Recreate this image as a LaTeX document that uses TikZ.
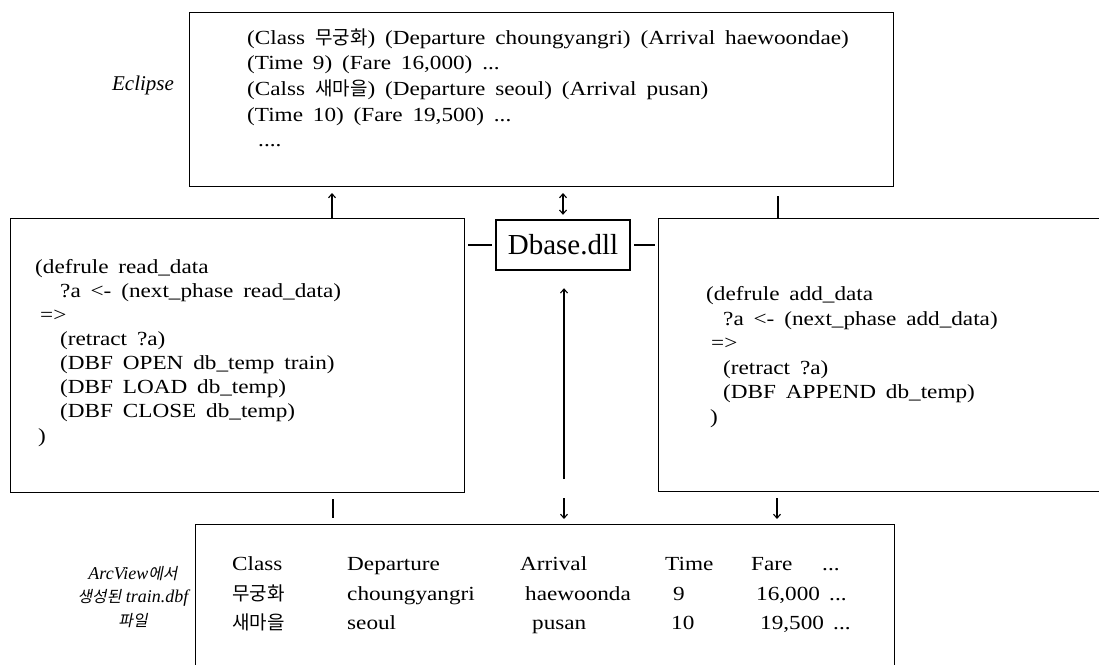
\documentclass[tikz,border=0pt]{standalone}
\usepackage{fontspec}
\setmainfont{Liberation Serif}[WordSpace=1.7,FakeStretch=1.16]
\newfontfamily\plainserif{Liberation Serif}
\newfontfamily\krfont{Noto Sans CJK KR}[Scale=0.95]
\newfontfamily\kritfont{Noto Sans CJK KR}[Scale=0.88,FakeSlant=0.2]
\usetikzlibrary{arrows.meta}
\newcommand\mainfs{\fontsize{20}{24}\selectfont}
\tikzset{
  box/.style={draw, line width=1.1pt, inner sep=0pt, anchor=north west},
  txt/.style={anchor=base west, inner sep=0pt, font=\mainfs},
  lbl/.style={anchor=center, inner sep=0pt, font=\plainserif\fontsize{21}{24}\selectfont\itshape, align=center},
  conn/.style={line width=1.1pt},
  arr/.style={conn, -{Straight Barb[length=4pt,width=7pt]}},
  darr/.style={conn, {Straight Barb[length=4pt,width=7pt]}-{Straight Barb[length=4pt,width=7pt]}},
}
\begin{document}
\begin{tikzpicture}[x=1pt,y=-1pt]
\useasboundingbox (0,0) rectangle (1099,664);
% boxes
\node[box, minimum width=704, minimum height=174] (tb) at (189,12) {};
\node[box, minimum width=454, minimum height=274] (lb) at (10,218) {};
\node[box, minimum width=460, minimum height=273] (rb) at (658,218) {};
\node[box, minimum width=699, minimum height=170] (bb) at (195,524) {};
\node[draw, line width=2.4pt, minimum width=134, minimum height=50, inner sep=0pt,
      font=\plainserif\fontsize{29}{30}\selectfont] (dbase) at (563,245) {Dbase.dll};
% side labels
\node[lbl] (eclipse) at (143,85) {Eclipse};
\node[lbl, font=\plainserif\fontsize{18}{23.5}\selectfont\itshape] (arcview) at (133,597) {ArcView{\kritfont 에서}\\{\kritfont 생성된} train.dbf\\{\kritfont 파일}};
% top box text
\node[txt] (t1) at (247,44) {(Class {\krfont 무궁화}) (Departure choungyangri) (Arrival haewoondae)};
\node[txt] (t2) at (247,69) {(Time 9) (Fare 16,000) ...};
\node[txt] (t3) at (247,95) {(Calss {\krfont 새마을}) (Departure seoul) (Arrival pusan)};
\node[txt] (t4) at (247,121) {(Time 10) (Fare 19,500) ...};
\node[txt] (t5) at (258,146) {....};
% left box text
\node[txt] (l1) at (35,273) {(defrule read\_data};
\node[txt] (l2) at (60,297) {?a <- (next\_phase read\_data)};
\node[txt] (l3) at (40,321) {=>};
\node[txt] (l4) at (60,345) {(retract ?a)};
\node[txt] (l5) at (60,369) {(DBF OPEN db\_temp train)};
\node[txt] (l6) at (60,393) {(DBF LOAD db\_temp)};
\node[txt] (l7) at (60,417) {(DBF CLOSE db\_temp)};
\node[txt] (l8) at (38,442) {)};
% right box text
\node[txt] (r1) at (706,300) {(defrule add\_data};
\node[txt] (r2) at (723,325) {?a <- (next\_phase add\_data)};
\node[txt] (r3) at (711,349) {=>};
\node[txt] (r4) at (723,374) {(retract ?a)};
\node[txt] (r5) at (723,398) {(DBF APPEND db\_temp)};
\node[txt] (r6) at (710,423) {)};
% bottom table
\node[txt] (c11) at (232,570) {Class};
\node[txt] (c12) at (347,570) {Departure};
\node[txt] (c13) at (520,570) {Arrival};
\node[txt] (c14) at (665,570) {Time};
\node[txt] (c15) at (751,570) {Fare};
\node[txt] (c16) at (822,570) {...};
\node[txt] (c21) at (232,600) {\krfont 무궁화};
\node[txt] (c22) at (347,600) {choungyangri};
\node[txt] (c23) at (525,600) {haewoonda};
\node[txt] (c24) at (673,600) {9};
\node[txt] (c25) at (756,600) {16,000};
\node[txt] (c26) at (829,600) {...};
\node[txt] (c31) at (232,629) {\krfont 새마을};
\node[txt] (c32) at (347,629) {seoul};
\node[txt] (c33) at (532,629) {pusan};
\node[txt] (c34) at (671,629) {10};
\node[txt] (c35) at (760,629) {19,500};
\node[txt] (c36) at (833,629) {...};
% free ends
\coordinate (cup) at (332,193);
\coordinate (cdd) at (563,193);
\coordinate (crt) at (778,196);
\coordinate (clong) at (564,479);
\coordinate (cd1) at (564,498);
\coordinate (cd2) at (777,498);
\coordinate (cl2) at (333,499);
% connectors
\draw[arr] (lb.north -| cup) -- (cup);
\draw[darr, shorten <=4pt] (dbase.north -| cdd) -- (cdd);
\draw[conn] (rb.north -| crt) -- (crt);
\draw[conn, shorten <=3pt, shorten >=3pt] (dbase.west) -- (dbase.west -| lb.east);
\draw[conn, shorten <=3pt, shorten >=3pt] (dbase.east) -- (dbase.east -| rb.west);
\draw[arr, shorten >=17pt] (clong) -- (dbase.south -| clong);
\draw[arr, shorten >=5pt] (cd1) -- (bb.north -| cd1);
\draw[arr, shorten >=5pt] (cd2) -- (bb.north -| cd2);
\draw[conn, shorten >=6pt] (cl2) -- (bb.north -| cl2);
\end{tikzpicture}
\end{document}
